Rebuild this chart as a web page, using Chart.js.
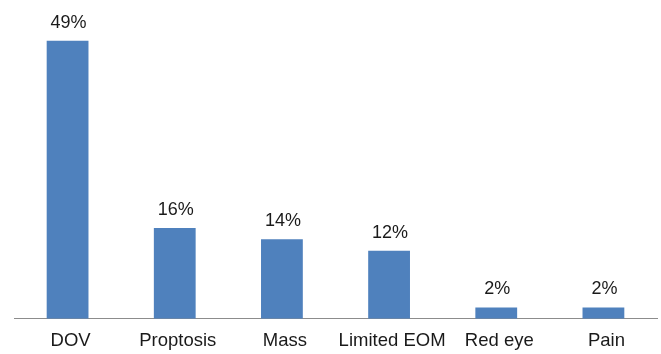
<!DOCTYPE html>
<html>
<head>
<meta charset="utf-8">
<script src="https://cdn.jsdelivr.net/npm/chart.js@4"></script>
<style>
html,body{margin:0;padding:0;background:#fff;}
canvas{display:block;}
</style>
</head>
<body>
<canvas id="c" width="661" height="354"></canvas>
<script>
const categories = ["DOV", "Proptosis", "Mass", "Limited EOM", "Red eye", "Pain"];
const percentages = [49, 16, 14, 12, 2, 2];
const valueLabels = ["49%", "16%", "14%", "12%", "2%", "2%"];

const labelPlugin = {
  id: 'barLabels',
  afterDatasetsDraw(chart) {
    const ctx = chart.ctx;
    const meta = chart.getDatasetMeta(0);
    ctx.save();
    ctx.font = '18px "Liberation Sans", Arial, sans-serif';
    ctx.fillStyle = '#1a1a1a';
    ctx.textAlign = 'center';
    ctx.textBaseline = 'alphabetic';
    meta.data.forEach((bar, i) => {
      ctx.fillText(valueLabels[i], bar.x + 1, bar.y - 13);
    });
    ctx.restore();
  }
};

new Chart(document.getElementById('c'), {
  type: 'bar',
  data: {
    labels: categories,
    datasets: [{
      data: percentages,
      backgroundColor: '#4f81bd',
      borderWidth: 0,
      categoryPercentage: 1,
      barPercentage: 0.39
    }]
  },
  options: {
    responsive: false,
    animation: false,
    events: [],
    layout: { padding: { left: 14, right: 4, top: 35, bottom: -9 } },
    plugins: { legend: { display: false }, tooltip: { enabled: false } },
    scales: {
      x: {
        grid: { display: false, drawTicks: false },
        border: { display: true, color: '#8c8c8c', width: 1 },
        ticks: {
          color: '#1a1a1a',
          padding: 11,
          maxRotation: 0,
          minRotation: 0,
          autoSkip: false,
          labelOffset: 3,
          font: { family: '"Liberation Sans", Arial, sans-serif', size: 18.5 }
        }
      },
      y: {
        display: false,
        min: 0,
        max: 50
      }
    }
  },
  plugins: [labelPlugin]
});
</script>
</body>
</html>
